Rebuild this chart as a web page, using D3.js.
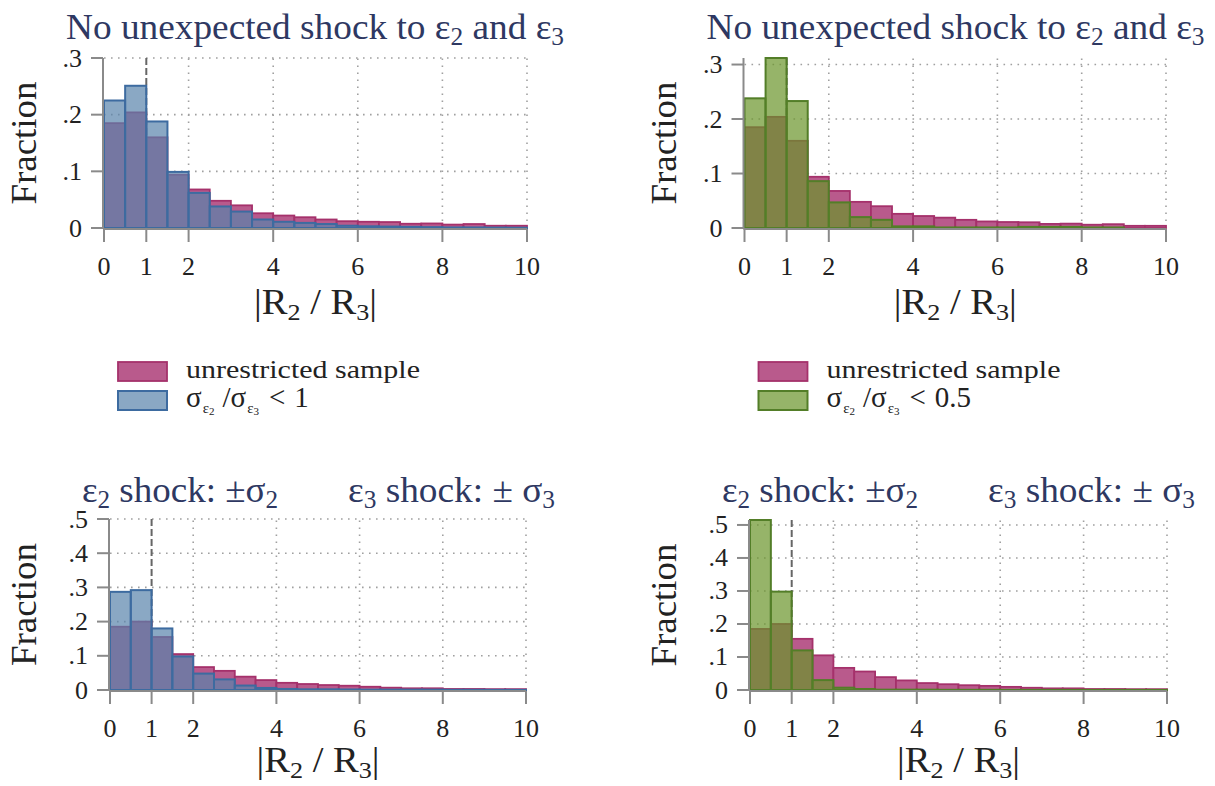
<!DOCTYPE html>
<html>
<head>
<meta charset="utf-8">
<script src="https://cdn.jsdelivr.net/npm/d3@7"></script>
<style>
  html, body { margin: 0; padding: 0; background: #ffffff; }
  svg { display: block; }
</style>
</head>
<body>
<svg id="chart" width="1215" height="786" font-family="'Liberation Serif', 'Times New Roman', serif"></svg>
<script>
// ---------------- DATA ----------------
// Histogram bins of |R2 / R3| (start of each bin, bin width 0.5)
const binStarts = [0, 0.5, 1, 1.5, 2, 2.5, 3, 3.5, 4, 4.5, 5, 5.5, 6, 6.5, 7, 7.5, 8, 8.5, 9, 9.5];
const binWidth = 0.5;

// Top row: "No unexpected shock to ε2 and ε3"
const unrestrictedTop = [0.185, 0.204, 0.160, 0.094, 0.068, 0.048, 0.040, 0.026, 0.022, 0.019,
                         0.015, 0.012, 0.011, 0.0105, 0.0075, 0.008, 0.006, 0.007, 0.004, 0.004];
const sigmaRatioBelow1 = [0.225, 0.251, 0.188, 0.099, 0.062, 0.038, 0.029, 0.015, 0.011, 0.009,
                          0.007, 0.004, 0.003, 0.0025, 0.002, 0.0015, 0.001, 0.001, 0.0007, 0.0005];
const sigmaRatioBelowHalf = [0.238, 0.312, 0.233, 0.086, 0.047, 0.020, 0.015, 0.003, 0.003, 0.001,
                             0.001, 0.001, 0.001, 0.002, 0.002, 0.002, 0.001, 0.001, 0, 0];

// Bottom row: "ε2 shock: ±σ2   ε3 shock: ± σ3"
const unrestrictedBottom = [0.185, 0.200, 0.155, 0.105, 0.067, 0.056, 0.039, 0.029, 0.021, 0.0175,
                            0.0145, 0.0125, 0.0095, 0.0068, 0.005, 0.005, 0.003, 0.003, 0.0025, 0.0025];
const shockBelow1 = [0.287, 0.292, 0.180, 0.098, 0.048, 0.031, 0.013, 0.006, 0.003, 0.002,
                     0.002, 0.0015, 0.001, 0.001, 0.001, 0.001, 0.0005, 0.0005, 0.0003, 0.0003];
const shockBelowHalf = [0.515, 0.298, 0.120, 0.030, 0.007, 0.003, 0.001, 0.001, 0.001, 0.0005,
                        0.0005, 0.0005, 0.0003, 0.0003, 0.0003, 0.0003, 0.0002, 0.0002, 0.0002, 0.0002];

const xTicks = [0, 1, 2, 4, 6, 8, 10];
const xGridValues = [2, 4, 6, 8, 10];
const refLineValue = 1;
const yTicksTop = [0, 0.1, 0.2, 0.3];
const yTicksBottom = [0, 0.1, 0.2, 0.3, 0.4, 0.5];
const yTickLabel = v => v === 0 ? "0" : "." + Math.round(v * 10);

const yAxisTitle = "Fraction";
const legendBase = "unrestricted sample";
const topTitle = [["No unexpected shock to ε"], ["2", "sub"], [" and ε"], ["3", "sub"]];
const shockTitleA = [["ε"], ["2", "sub"], [" shock: ±σ"], ["2", "sub"]];
const shockTitleB = [["ε"], ["3", "sub"], [" shock: ± σ"], ["3", "sub"]];
const xTitle = [["|R"], ["2", "sub"], [" / R"], ["3", "sub"], ["|"]];

// ---------------- STYLE ----------------
const C = {
  magentaFill: "#b95a8c", magentaStroke: "#a5316b",
  blueFill: "#5883ab", blueStroke: "#3d6ba0",
  greenFill: "#6a942a", greenStroke: "#537e28",
  axis: "#8a8a8a", grid: "#a0a0a0", ref: "#666666",
  title: "#2e3862", text: "#222222"
};

const panels = [
  { x0: 104, x1: 527, yBase: 228, height: 170, ticks: yTicksTop, base: unrestrictedTop, comp: sigmaRatioBelow1,
    fill: C.blueFill, stroke: C.blueStroke, fracX: 36, titleY: 39, title: "top", legendLabel: "1", xTitleY: 314 },
  { x0: 744.5, x1: 1166, yBase: 228, height: 170, ticks: yTicksTop, base: unrestrictedTop, comp: sigmaRatioBelowHalf,
    fill: C.greenFill, stroke: C.greenStroke, fracX: 676, titleY: 39, title: "top", legendLabel: "0.5", xTitleY: 314 },
  { x0: 110, x1: 526, yBase: 690, height: 171, ticks: yTicksBottom, base: unrestrictedBottom, comp: shockBelow1,
    fill: C.blueFill, stroke: C.blueStroke, fracX: 36, titleY: 502, title: "bottom", xTitleY: 772 },
  { x0: 750, x1: 1167, yBase: 690, height: 170, ticks: yTicksBottom, base: unrestrictedBottom, comp: shockBelowHalf,
    fill: C.greenFill, stroke: C.greenStroke, fracX: 676, titleY: 502, title: "bottom", xTitleY: 772 }
];

const svg = d3.select("#chart");

function richText(g, parts, x, y, size, opts) {
  const t = g.append("text").attr("x", x).attr("y", y)
    .attr("font-size", size).attr("fill", opts.color || C.text)
    .attr("text-anchor", opts.anchor || "start");
  const drop = size * 0.17;
  let shift = 0;
  parts.forEach(([s, kind]) => {
    const sp = t.append("tspan").text(s);
    if (kind === "sub") {
      sp.attr("font-size", size * 0.68).attr("dy", drop - shift);
      shift = drop;
    } else {
      if (shift !== 0) sp.attr("dy", -shift);
      shift = 0;
    }
  });
  if (opts.width) t.attr("textLength", opts.width).attr("lengthAdjust", "spacingAndGlyphs");
  return t;
}

panels.forEach(p => {
  const g = svg.append("g");
  const topTick = d3.max(p.ticks);
  const yMax = Math.max(topTick, d3.max(p.comp), d3.max(p.base));
  const x = d3.scaleLinear().domain([0, 10]).range([p.x0, p.x1]);
  const y = d3.scaleLinear().domain([0, yMax]).range([p.yBase, p.yBase - p.height]);
  const yTop = y(yMax);

  // grid
  g.selectAll(".hgrid").data(p.ticks.filter(v => v > 0)).join("line")
    .attr("x1", p.x0).attr("x2", p.x1).attr("y1", d => y(d)).attr("y2", d => y(d))
    .attr("stroke", C.grid).attr("stroke-width", 1.6).attr("stroke-dasharray", "1.6 5.4");
  g.selectAll(".vgrid").data(xGridValues).join("line")
    .attr("x1", d => x(d)).attr("x2", d => x(d)).attr("y1", p.yBase).attr("y2", yTop)
    .attr("stroke", C.grid).attr("stroke-width", 1.6).attr("stroke-dasharray", "1.6 5.4");

  // reference line
  g.append("line").attr("x1", x(refLineValue)).attr("x2", x(refLineValue))
    .attr("y1", yTop).attr("y2", p.yBase)
    .attr("stroke", C.ref).attr("stroke-width", 2).attr("stroke-dasharray", "7 3");

  // unrestricted bars
  g.selectAll(".base").data(binStarts.map((b, i) => ({ b, v: p.base[i] }))).join("rect")
    .attr("x", d => x(d.b)).attr("width", d => x(d.b + binWidth) - x(d.b))
    .attr("y", d => y(d.v)).attr("height", d => p.yBase - y(d.v))
    .attr("fill", C.magentaFill).attr("stroke", C.magentaStroke).attr("stroke-width", 1.8);
  // comparison bars
  g.selectAll(".comp").data(binStarts.map((b, i) => ({ b, v: p.comp[i] }))).join("rect")
    .attr("x", d => x(d.b)).attr("width", d => x(d.b + binWidth) - x(d.b))
    .attr("y", d => y(d.v)).attr("height", d => p.yBase - y(d.v))
    .attr("fill", p.fill).attr("fill-opacity", 0.7)
    .attr("stroke", p.stroke).attr("stroke-width", 2);

  // axes
  g.append("line").attr("x1", p.x0 - 1).attr("x2", p.x0 - 1).attr("y1", yTop).attr("y2", p.yBase + 1)
    .attr("stroke", C.axis).attr("stroke-width", 2);
  g.append("line").attr("x1", p.x0 - 1).attr("x2", p.x1).attr("y1", p.yBase + 1).attr("y2", p.yBase + 1)
    .attr("stroke", C.axis).attr("stroke-width", 2);
  g.selectAll(".ytick").data(p.ticks).join("line")
    .attr("x1", p.x0 - 13).attr("x2", p.x0 - 1).attr("y1", d => y(d)).attr("y2", d => y(d))
    .attr("stroke", C.axis).attr("stroke-width", 2);
  g.selectAll(".xtick").data(xTicks).join("line")
    .attr("x1", d => x(d)).attr("x2", d => x(d)).attr("y1", p.yBase + 1).attr("y2", p.yBase + 14)
    .attr("stroke", C.axis).attr("stroke-width", 2);

  // tick labels
  g.selectAll(".ylab").data(p.ticks).join("text")
    .attr("x", p.x0 - 22).attr("y", d => y(d) + 8.5).attr("text-anchor", "end")
    .attr("font-size", 26).attr("fill", C.text).text(yTickLabel);
  g.selectAll(".xlab").data(xTicks).join("text")
    .attr("x", d => x(d)).attr("y", p.yBase + 47).attr("text-anchor", "middle")
    .attr("font-size", 26).attr("fill", C.text).text(d => d);

  // axis titles
  const midY = (p.yBase + yTop) / 2;
  g.append("text").attr("x", p.fracX).attr("y", midY).attr("text-anchor", "middle")
    .attr("transform", `rotate(-90,${p.fracX},${midY})`)
    .attr("font-size", 36).attr("fill", C.text)
    .attr("textLength", 123).attr("lengthAdjust", "spacingAndGlyphs").text(yAxisTitle);
  richText(g, xTitle, (p.x0 + p.x1) / 2, p.xTitleY, 35, { anchor: "middle", width: 123 });

  // titles
  if (p.title === "top") {
    richText(g, topTitle, p.x0 - 38, p.titleY, 36, { color: C.title, width: 498 });
  } else {
    richText(g, shockTitleA, p.x0 - 28, p.titleY, 36, { color: C.title, width: 196 });
    richText(g, shockTitleB, p.x0 + 238, p.titleY, 36, { color: C.title, width: 207 });
  }

  // legend (top row only)
  if (p.legendLabel) {
    const lx = p.x0 + 14, tx = p.x0 + 82;
    g.append("rect").attr("x", lx).attr("y", 362).attr("width", 49).attr("height", 19)
      .attr("fill", C.magentaFill).attr("stroke", C.magentaStroke).attr("stroke-width", 1.8);
    g.append("rect").attr("x", lx).attr("y", 391).attr("width", 49).attr("height", 19)
      .attr("fill", p.fill).attr("fill-opacity", 0.7).attr("stroke", p.stroke).attr("stroke-width", 2);
    g.append("text").attr("x", tx).attr("y", 378).attr("font-size", 26).attr("fill", C.text)
      .attr("textLength", 234).attr("lengthAdjust", "spacingAndGlyphs").text(legendBase);
    const t = g.append("text").attr("x", tx).attr("y", 407).attr("font-size", 29).attr("fill", C.text);
    t.append("tspan").text("σ");
    t.append("tspan").attr("font-size", 15).attr("dx", 1).attr("dy", 6).text("ε");
    t.append("tspan").attr("font-size", 11).attr("dy", 2).text("2");
    t.append("tspan").attr("dx", 8).attr("dy", -8).text("/σ");
    t.append("tspan").attr("font-size", 15).attr("dx", 1).attr("dy", 6).text("ε");
    t.append("tspan").attr("font-size", 11).attr("dy", 2).text("3");
    t.append("tspan").attr("dx", 10).attr("dy", -8).text("<");
    t.append("tspan").attr("dx", 9).text(p.legendLabel);
  }
});
</script>
</body>
</html>
